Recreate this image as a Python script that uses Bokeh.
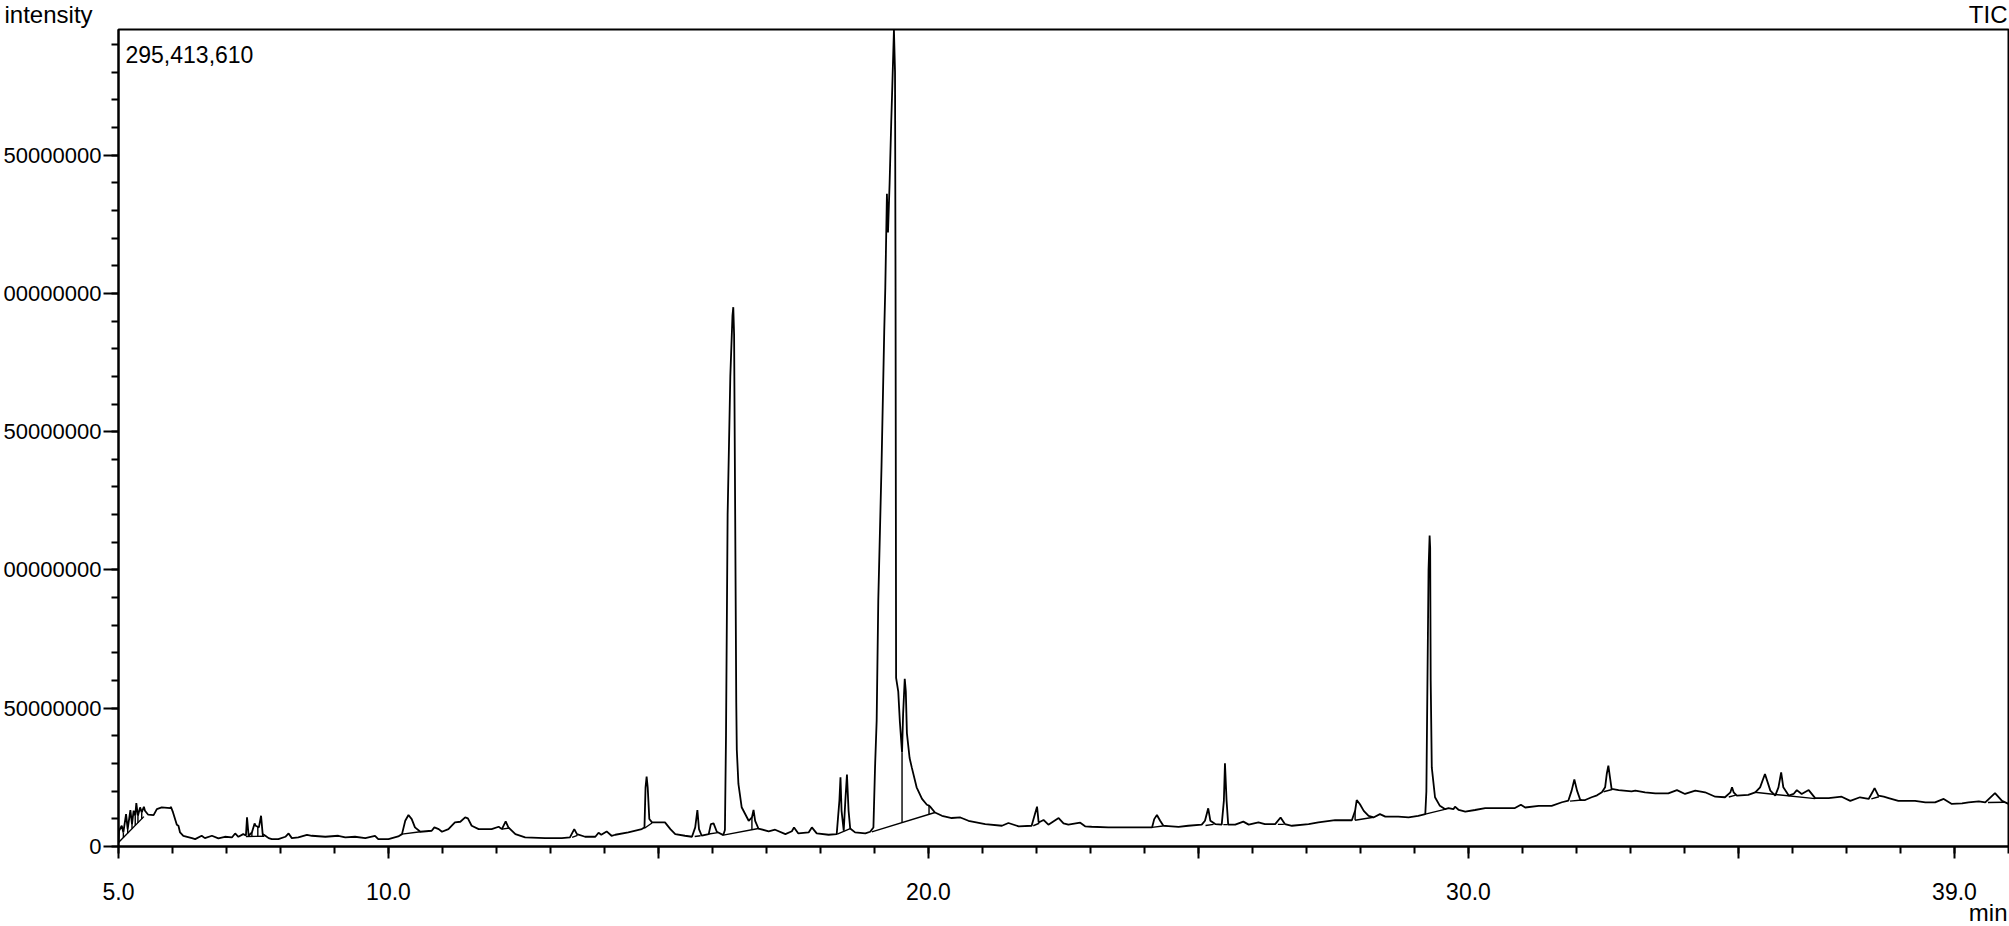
from bokeh.plotting import figure
from bokeh.layouts import column
from bokeh.models import Range1d, FixedTicker, PrintfTickFormatter, Label, ColumnDataSource
from bokeh.embed import file_html
from bokeh.resources import INLINE

# ---------------- data ----------------
time_min = [
    5.00, 5.01, 5.06, 5.09, 5.14, 5.17, 5.22, 5.25, 5.28, 5.31, 5.33, 5.36, 5.40, 5.43, 5.47, 5.49,
    5.55, 5.65, 5.71, 5.80, 5.96, 5.97, 6.01, 6.08, 6.11, 6.14, 6.20, 6.36, 6.42, 6.54, 6.60, 6.73,
    6.85, 6.97, 7.10, 7.16, 7.22, 7.31, 7.36, 7.38, 7.41, 7.47, 7.52, 7.54, 7.58, 7.60, 7.64, 7.67,
    7.72, 7.78, 7.84, 7.96, 8.09, 8.15, 8.21, 8.33, 8.49, 8.58, 8.83, 9.07, 9.20, 9.38, 9.57, 9.75,
    9.81, 10.00, 10.18, 10.25, 10.31, 10.37, 10.43, 10.49, 10.59, 10.80, 10.85, 10.93, 10.99, 11.11,
    11.23, 11.33, 11.42, 11.47, 11.54, 11.67, 11.91, 12.04, 12.10, 12.17, 12.22, 12.35, 12.53, 12.90,
    13.21, 13.36, 13.44, 13.49, 13.64, 13.83, 13.89, 13.94, 14.04, 14.13, 14.20, 14.44, 14.69, 14.74,
    14.76, 14.78, 14.80, 14.83, 14.88, 15.12, 15.22, 15.31, 15.49, 15.62, 15.68, 15.72, 15.75, 15.80,
    15.93, 15.97, 16.02, 16.08, 16.20, 16.23, 16.25, 16.28, 16.33, 16.37, 16.385, 16.40, 16.42, 16.44,
    16.45, 16.48, 16.54, 16.67, 16.73, 16.76, 16.79, 16.85, 17.04, 17.16, 17.35, 17.47, 17.51, 17.59,
    17.78, 17.84, 17.93, 18.15, 18.30, 18.35, 18.37, 18.39, 18.43, 18.46, 18.49, 18.52, 18.55, 18.64,
    18.83, 18.92, 18.98, 19.01, 19.04, 19.07, 19.13, 19.18, 19.20, 19.23, 19.25, 19.28, 19.31, 19.33,
    19.36, 19.38, 19.39, 19.40, 19.44, 19.47, 19.51, 19.53, 19.56, 19.58, 19.60, 19.65, 19.69, 19.78,
    19.88, 19.97, 20.01, 20.03, 20.12, 20.25, 20.43, 20.59, 20.74, 21.05, 21.36, 21.48, 21.67, 21.91,
    21.97, 22.01, 22.04, 22.13, 22.22, 22.41, 22.50, 22.59, 22.81, 22.90, 23.02, 23.33, 23.70, 24.14,
    24.18, 24.23, 24.29, 24.35, 24.44, 24.63, 24.81, 25.06, 25.12, 25.18, 25.22, 25.31, 25.43, 25.47,
    25.49, 25.52, 25.55, 25.68, 25.83, 25.93, 26.11, 26.23, 26.42, 26.52, 26.60, 26.73, 27.04, 27.22,
    27.53, 27.84, 27.90, 27.93, 27.99, 28.06, 28.15, 28.24, 28.36, 28.46, 28.70, 28.89, 29.07, 29.20,
    29.22, 29.24, 29.26, 29.28, 29.29, 29.30, 29.32, 29.38, 29.47, 29.57, 29.63, 29.72, 29.75, 29.82,
    29.94, 30.12, 30.31, 30.68, 30.86, 30.97, 31.05, 31.30, 31.54, 31.73, 31.85, 31.91, 31.96, 32.01,
    32.07, 32.16, 32.28, 32.38, 32.47, 32.53, 32.56, 32.59, 32.62, 32.65, 32.78, 33.02, 33.09, 33.27,
    33.46, 33.70, 33.86, 34.01, 34.20, 34.38, 34.57, 34.75, 34.85, 34.88, 34.91, 34.97, 35.18, 35.31,
    35.40, 35.49, 35.59, 35.68, 35.74, 35.79, 35.83, 35.93, 36.02, 36.08, 36.17, 36.30, 36.42, 36.67,
    36.91, 37.07, 37.25, 37.41, 37.48, 37.52, 37.59, 37.69, 37.78, 37.96, 38.27, 38.46, 38.64, 38.80,
    38.95, 39.14, 39.26, 39.45, 39.57, 39.75, 39.88, 40.00,
]
intensity_millions = [
    1.46, 5.69, 7.50, 5.09, 11.73, 6.29, 13.18, 8.10, 12.94, 11.12, 15.71, 11.12, 14.14, 12.33, 14.38, 12.94,
    11.49, 11.37, 13.54, 14.14, 13.90, 14.38, 12.33, 7.86, 7.50, 5.09, 3.88, 3.03, 2.67, 3.88, 3.03, 3.88,
    2.91, 3.52, 3.27, 4.72, 3.52, 4.48, 4.00, 10.52, 3.88, 5.09, 8.35, 7.50, 7.14, 6.90, 11.12, 4.48,
    3.88, 3.03, 2.67, 2.67, 3.52, 4.72, 3.03, 3.27, 4.24, 3.88, 3.52, 3.88, 3.27, 3.52, 3.03, 3.88,
    2.67, 2.67, 3.64, 4.48, 9.31, 11.37, 9.92, 6.90, 5.33, 5.69, 6.90, 6.29, 5.33, 6.29,
    8.71, 8.95, 10.52, 10.16, 7.50, 6.29, 6.29, 7.14, 6.29, 9.07, 6.90, 4.48, 3.27, 3.03,
    3.03, 3.27, 6.29, 4.48, 3.52, 3.52, 4.96, 4.24, 5.45, 3.88, 4.25, 5.09, 6.30, 6.91,
    21.4, 25.26, 21.4, 9.93, 8.72, 8.72, 6.30, 4.49, 3.89, 3.53, 6.91, 13.19, 6.30, 3.89,
    4.49, 8.11, 8.36, 5.34, 4.13, 6.0, 40.0, 120.0, 170.0, 192.0, 195.0, 185.0, 120.0, 52.0,
    35.0, 22.6, 14.2, 9.3, 10.5, 13.2, 9.3, 6.5, 5.5, 6.06, 4.5, 5.5, 6.9, 4.73,
    5.1, 6.9, 4.73, 4.25, 4.49, 16.6, 25.0, 12.9, 5.7, 16.6, 26.0, 12.9, 6.5, 5.1,
    4.73, 5.34, 6.9, 28.6, 45.5, 89.0, 137.6, 186.0, 202.0, 236.0, 222.0, 240.0, 262.0, 275.0,
    295.41361, 280.0, 200.0, 61.0, 56.0, 45.0, 34.0, 48.0, 60.6, 56.0, 41.0, 32.0, 28.6, 21.4,
    17.2, 15.1, 14.8, 14.4, 12.3, 11.1, 10.3, 10.5, 9.3, 8.1, 7.5, 8.5, 7.3, 7.5,
    11.7, 14.4, 8.7, 9.6, 7.9, 10.3, 8.4, 7.9, 8.6, 7.3, 7.14, 6.9, 6.9, 6.9,
    9.9, 11.4, 9.3, 7.5, 7.4, 7.1, 7.5, 7.9, 9.3, 13.8, 9.3, 8.1, 7.9, 16.6,
    30.1, 16.6, 7.9, 7.9, 9.0, 7.9, 8.7, 8.1, 8.1, 10.5, 8.1, 7.5, 8.1, 8.7,
    9.5, 9.5, 12.9, 16.8, 15.3, 12.9, 11.1, 10.5, 11.7, 10.8, 10.8, 10.5, 11.1, 11.7,
    20.0, 60.0, 100.0, 112.4, 108.0, 60.0, 28.6, 17.8, 14.7, 13.5, 13.9, 13.5, 14.4, 13.2,
    12.6, 13.2, 13.9, 13.9, 13.9, 15.1, 14.1, 14.7, 14.7, 16.0, 16.6, 20.2, 24.2, 20.2,
    16.8, 16.8, 17.8, 18.5, 19.6, 21.4, 26.2, 29.2, 25.0, 20.8, 20.4, 19.9, 20.2, 19.6,
    19.2, 19.2, 20.4, 19.0, 20.2, 19.6, 18.0, 17.8, 19.6, 21.4, 19.6, 18.4, 18.7, 19.6,
    21.4, 26.2, 20.2, 18.4, 21.4, 26.8, 21.4, 18.4, 19.0, 20.4, 19.0, 20.4, 17.5, 17.5,
    18.0, 16.5, 17.8, 17.2, 19.6, 21.1, 18.4, 18.0, 17.5, 16.5, 16.5, 15.96, 15.96, 17.2,
    15.4, 15.6, 15.96, 16.3, 15.96, 19.3, 16.5, 15.4,
]

# integration baselines (start time, start intensity, end time, end intensity), millions
base_t0 = [5.00, 7.36, 10.25, 12.10, 13.40, 14.74, 15.67, 15.93, 16.20, 18.31, 18.95, 21.94, 24.14,
           25.13, 25.46, 26.47, 27.90, 29.20, 31.88, 32.50, 34.82, 35.30, 37.46, 39.62]
base_i0 = [1.46, 3.6, 4.48, 6.3, 3.3, 6.6, 3.6, 4.5, 4.13, 4.5, 5.3, 7.5, 6.9,
           7.6, 7.9, 8.0, 9.5, 11.7, 16.4, 19.8, 17.9, 19.6, 17.2, 15.9]
base_t1 = [5.47, 7.70, 10.59, 12.24, 13.50, 14.88, 15.78, 16.10, 16.85, 18.55, 20.12, 22.05, 24.34,
           25.28, 25.54, 26.58, 28.24, 29.58, 32.10, 32.66, 34.95, 36.42, 37.60, 39.92]
base_i1 = [10.8, 3.7, 5.33, 6.7, 4.0, 8.5, 3.9, 5.0, 6.5, 6.5, 12.3, 8.4, 7.4,
           8.0, 7.9, 8.0, 10.6, 13.5, 16.8, 20.6, 18.6, 17.3, 18.0, 16.0]

# peak-split drop lines (time, top, bottom), millions
drop_t = [5.09, 5.17, 5.25, 5.31, 5.36, 5.43, 7.47, 7.58, 7.67, 16.73, 18.43, 19.51, 20.01, 27.90]
drop_top = [5.09, 6.29, 8.10, 11.12, 11.12, 12.33, 5.09, 7.14, 4.48, 10.5, 5.7, 34.0, 14.8, 12.9]
drop_bot = [3.2, 4.8, 6.4, 7.6, 8.5, 9.9, 3.6, 3.65, 3.7, 6.1, 5.4, 8.6, 11.6, 9.5]

max_intensity = 295413610
x_major = [5, 10, 15, 20, 25, 30, 35, 39]
x_unlabelled = [15, 25, 35]
y_major = [0, 50000000, 100000000, 150000000, 200000000, 250000000]
y_labels = ["0", "50000000", "00000000", "50000000", "00000000", "50000000"]

# ---------------- styling ----------------
FONT = "Liberation Sans"
M = 1e6
W = 2009
HEAD_H = 28
FOOT_H = 28
FOOT_OVERLAP = 10


def no_align(f):
    if "frame_align" in f.properties():
        f.frame_align = False
    return f


def blank(height):
    f = figure(output_backend="svg", toolbar_location=None, width=W, height=height,
               x_range=Range1d(0, W), y_range=Range1d(0, height),
               x_axis_type=None, y_axis_type=None, min_border=0,
               background_fill_color=None, border_fill_color=None)
    f.outline_line_color = None
    f.xgrid.visible = False
    f.ygrid.visible = False
    return no_align(f)


# header: axis caption and trace name
head = blank(HEAD_H)
head.add_layout(Label(x=4, y=14.4, text="intensity", text_align="left",
                      text_baseline="alphabetic", text_font=FONT, text_font_size="24px",
                      text_color="black"))
head.add_layout(Label(x=2007, y=13.9, text="TIC", text_align="right",
                      text_baseline="alphabetic", text_font=FONT, text_font_size="24px",
                      text_color="black"))

# main chromatogram
p = figure(
    output_backend="svg", toolbar_location=None,
    frame_width=1890, frame_height=817,
    min_border_left=117, min_border_right=2, min_border_top=1, min_border_bottom=62,
    x_range=Range1d(5, 40), y_range=Range1d(0, max_intensity),
    background_fill_color="white", border_fill_color="white",
)
no_align(p)
p.outline_line_color = "black"
p.outline_line_width = 2
p.xgrid.visible = False
p.ygrid.visible = False

xa = p.xaxis[0]
xa.ticker = FixedTicker(ticks=x_major, minor_ticks=list(range(5, 41)))
xa.formatter = PrintfTickFormatter(format="%.1f")
xa.major_label_overrides = {float(v): "" for v in x_unlabelled}
xa.axis_line_width = 2
xa.axis_line_color = "black"
xa.major_tick_line_width = 2
xa.minor_tick_line_width = 2
xa.major_tick_out = 12
xa.major_tick_in = 0
xa.minor_tick_out = 7
xa.minor_tick_in = 0
xa.major_label_standoff = 24
xa.major_label_text_font = FONT
xa.major_label_text_font_size = "23px"
xa.major_label_text_color = "black"

ya = p.yaxis[0]
ya.ticker = FixedTicker(ticks=y_major, minor_ticks=list(range(0, 300000000, 10000000)))
ya.major_label_overrides = {float(v): s for v, s in zip(y_major, y_labels)}
ya.axis_line_width = 2
ya.axis_line_color = "black"
ya.major_tick_line_width = 2
ya.minor_tick_line_width = 2
ya.major_tick_out = 15
ya.major_tick_in = 0
ya.minor_tick_out = 7
ya.minor_tick_in = 0
ya.major_label_standoff = 2
ya.major_label_text_font = FONT
ya.major_label_text_font_size = "22px"
ya.major_label_text_color = "black"

src = ColumnDataSource(dict(t=time_min, i=[v * M for v in intensity_millions]))
p.line("t", "i", source=src, line_color="black", line_width=1.8)
p.segment(x0=base_t0, y0=[v * M for v in base_i0], x1=base_t1, y1=[v * M for v in base_i1],
          line_color="black", line_width=1.4)
p.segment(x0=drop_t, y0=[v * M for v in drop_top], x1=drop_t, y1=[v * M for v in drop_bot],
          line_color="black", line_width=1.4)

p.add_layout(Label(x=5, y=max_intensity, text="295,413,610", x_offset=7, y_offset=-25,
                   text_align="left", text_baseline="alphabetic",
                   text_font=FONT, text_font_size="23px", text_color="black"))

# footer: time unit (transparent, tucked into the empty strip under the tick labels)
foot = blank(FOOT_H)
foot.styles = {"margin-top": f"-{FOOT_OVERLAP}px"}
foot.add_layout(Label(x=2007, y=13.6, text="min", text_align="right",
                      text_baseline="alphabetic", text_font=FONT, text_font_size="24px",
                      text_color="black"))

layout = column(head, p, foot, spacing=0)
open("out.html", "w").write(file_html(layout, INLINE))
